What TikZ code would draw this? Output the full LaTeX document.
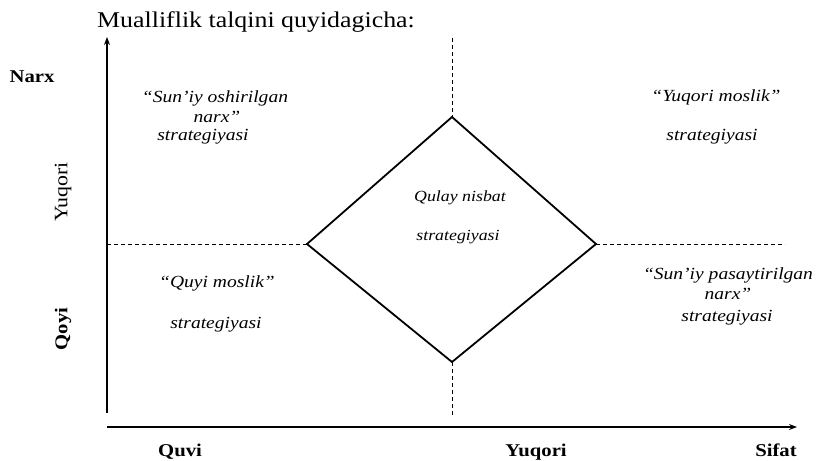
\documentclass[tikz,border=0pt]{standalone}
\usepackage{fontspec}
\setmainfont{Liberation Serif}[FakeStretch=1.15]
\usetikzlibrary{arrows.meta}
\begin{document}
\begin{tikzpicture}[x=1pt,y=-1pt,
  axis/.style={line width=1.3pt,-{Stealth[length=8pt,width=6pt]}},
  guide/.style={line width=0.9pt,dash pattern=on 4pt off 3pt},
  rhomb/.style={line width=1.8pt,line join=miter},
  quad/.style={font=\itshape\fontsize{17}{20}\selectfont,inner sep=0pt},
  small/.style={font=\itshape\fontsize{15.5}{18}\selectfont,inner sep=0pt},
  lbl/.style={font=\bfseries\fontsize{18}{21}\selectfont,inner sep=0pt},
  plain/.style={font=\fontsize{19}{22}\selectfont,inner sep=0pt},
  title/.style={font=\fontsize{22.5}{26}\selectfont,inner sep=0pt}]
\useasboundingbox (0,0) rectangle (818,460);

% key points
\coordinate (ybot) at (107,413);
\coordinate (ytop) at (107,37);
\coordinate (xleft) at (107,427);
\coordinate (xright) at (797,427);
\coordinate (T) at (452,117);
\coordinate (L) at (307,244);
\coordinate (R) at (596,244);
\coordinate (B) at (452,362);
\coordinate (vt) at (452,38);
\coordinate (vb) at (452,415);
\coordinate (hl) at (107,244);
\coordinate (hr) at (785,244);

% axes
\draw[axis] (ybot) -- (ytop);
\draw[axis] (xleft) -- (xright);

% dashed dividers
\draw[guide] (vt) -- (T);
\draw[guide] (B) -- (vb);
\draw[guide] (hl) -- (L);
\draw[guide] (R) -- (hr);

% central diamond
\draw[rhomb] (T) -- (R) -- (B) -- (L) -- cycle;

% title and axis labels
\node[title,anchor=base] (ttl) at (256,28) {Mualliflik talqini quyidagicha:};
\node[lbl,anchor=base] (narx) at (32,82) {Narx};
\node[plain,rotate=90] (yhigh) at (63,192) {Yuqori};
\node[lbl,rotate=90] (ylow) at (63,329) {Qoyi};
\node[lbl,anchor=base] (xlow) at (180,456) {Quvi};
\node[lbl,anchor=base] (xhigh) at (536,456) {Yuqori};
\node[lbl,anchor=base] (sifat) at (776,456) {Sifat};

% quadrant texts
\node[quad] (tl1) at (215,98) {“Sun'iy oshirilgan};
\node[quad] (tl2) at (217,117) {narx”};
\node[quad] (tl3) at (203,137) {strategiyasi};

\node[quad] (tr1) at (716,97) {“Yuqori moslik”};
\node[quad] (tr2) at (712,137) {strategiyasi};

\node[small] (c1) at (460,198) {Qulay nisbat};
\node[small] (c2) at (458,237) {strategiyasi};

\node[quad] (bl1) at (217,283) {“Quyi moslik”};
\node[quad] (bl2) at (216,325) {strategiyasi};

\node[quad] (br1) at (728,275) {“Sun'iy pasaytirilgan};
\node[quad] (br2) at (728,294) {narx”};
\node[quad] (br3) at (727,318) {strategiyasi};
\end{tikzpicture}
\end{document}
